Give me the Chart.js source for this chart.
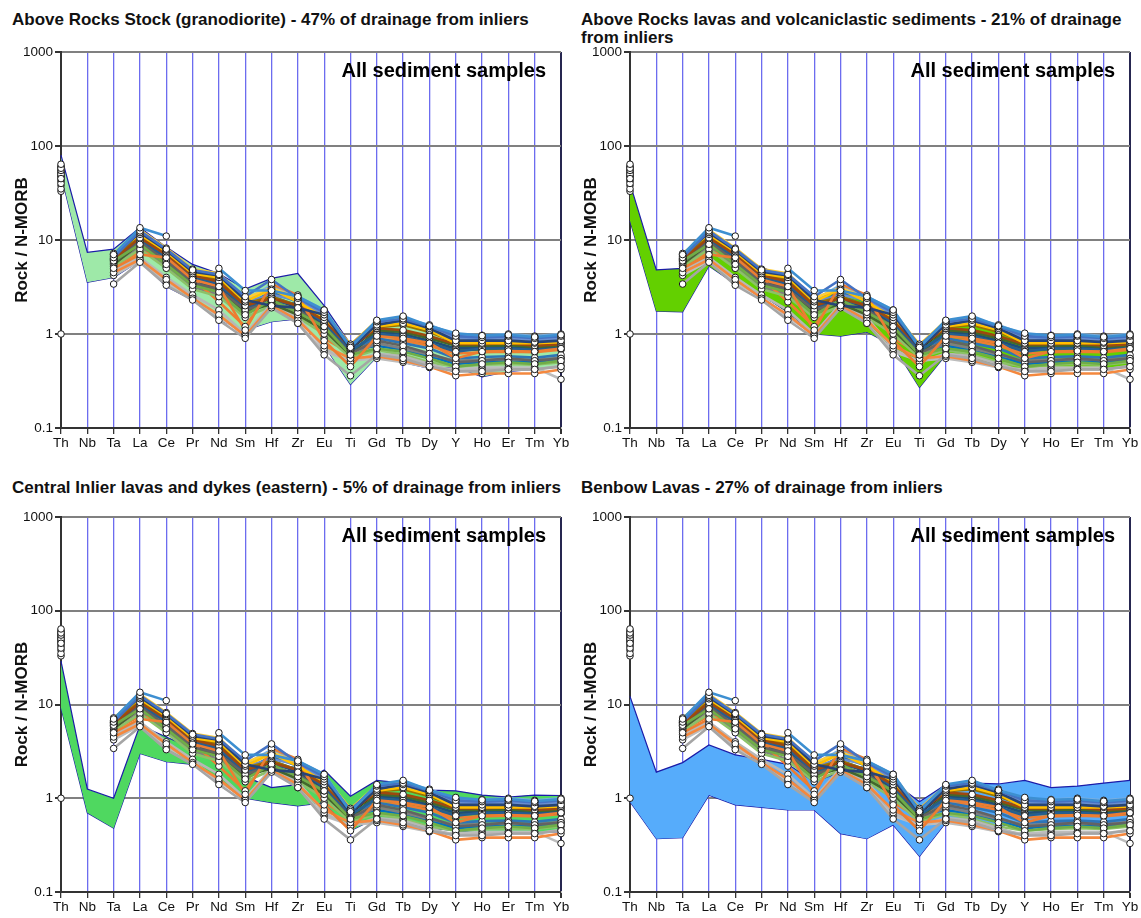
<!DOCTYPE html>
<html>
<head>
<meta charset="utf-8">
<script src="https://cdn.jsdelivr.net/npm/chart.js@4.4.1/dist/chart.umd.min.js"></script>
<style>
  body { margin: 0; background: #fff; width: 1141px; height: 918px; position: relative; overflow: hidden;
         font-family: Arial, "Liberation Sans", sans-serif; }
  .ttl { position: absolute; font-weight: bold; font-size: 17px; line-height: 18px; color: #111; white-space: nowrap; }
  canvas { position: absolute; }
</style>
</head>
<body>
<div class="ttl" style="left:12px;top:11px">Above Rocks Stock (granodiorite) - 47% of drainage from inliers</div>
<div class="ttl" style="left:581px;top:11px">Above Rocks lavas and volcaniclastic sediments - 21% of drainage<br>from inliers</div>
<div class="ttl" style="left:12px;top:479px">Central Inlier lavas and dykes (eastern) - 5% of drainage from inliers</div>
<div class="ttl" style="left:581px;top:479px">Benbow Lavas - 27% of drainage from inliers</div>

<canvas id="c1" width="580" height="415" style="left:0;top:40px"></canvas>
<canvas id="c2" width="572" height="415" style="left:569px;top:40px"></canvas>
<canvas id="c3" width="580" height="413" style="left:0;top:505px"></canvas>
<canvas id="c4" width="572" height="413" style="left:569px;top:505px"></canvas>

<script>
// Element order along the spider diagram (N-MORB normalised)
const elements = ['Th','Nb','Ta','La','Ce','Pr','Nd','Sm','Hf','Zr','Eu','Ti','Gd','Tb','Dy','Y','Ho','Er','Tm','Yb'];
const yTickValues = [0.1, 1, 10, 100, 1000];
const yTickLabels = ['0.1', '1', '10', '100', '1000'];
const yAxisTitle = 'Rock / N-MORB';
const noteText = 'All sediment samples';

// Stream sediment samples (Nb not analysed)
//              Th  Nb    Ta   La    Ce    Pr   Nd   Sm   Hf   Zr   Eu   Ti    Gd    Tb    Dy    Y     Ho    Er    Tm    Yb
const smp01 = [64, null, 7.0, 13.5, 11.0, null, 5.0, 2.9, 2.9, 2.5, 1.8, 0.72, 1.40, 1.55, 1.22, 1.02, 0.96, 0.98, 0.93, 0.98];
const smp02 = [58, null, 6.5, 12.5, 8.0, 4.8, 4.3, 2.5, 3.8, 2.4, 1.7, 0.75, 1.35, 1.45, 1.20, 0.95, 0.92, 0.95, 0.90, 0.95];
const smp03 = [55, null, 6.8, 12.0, 7.8, 4.6, 4.2, 2.3, 2.0, 1.9, 1.6, 0.70, 1.25, 1.40, 1.15, 0.85, 0.85, 0.85, 0.82, 0.85];
const smp04 = [60, null, 7.2, 11.5, 7.5, 4.4, 4.0, 2.2, 3.0, 2.2, 1.5, 0.78, 1.20, 1.30, 1.10, 0.80, 0.80, 0.80, 0.80, 0.82];
const smp05 = [45, null, 5.0, 7.0, 6.5, 3.8, 3.2, 1.1, 3.4, 2.6, 0.85, 0.45, 0.95, 0.90, 0.80, 0.55, 0.65, 0.66, 0.65, 0.70];
const smp06 = [40, null, 3.4, 5.8, 3.3, 2.3, 1.4, 0.9, 1.9, 1.3, 0.60, 0.36, 0.60, 0.55, 0.45, 0.40, 0.40, 0.42, 0.42, 0.45];
const smp07 = [50, null, 6.0, 9.0, 5.5, 3.3, 2.8, 1.6, 2.3, 1.7, 1.2, 0.60, 0.70, 0.65, 0.55, 0.45, 0.48, 0.50, 0.48, 0.52];
const smp08 = [52, null, 6.2, 10.5, 7.0, 4.2, 3.6, 2.0, 2.4, 2.0, 1.4, 0.72, 1.15, 1.10, 0.95, 0.78, 0.78, 0.80, 0.75, 0.78];
const smp09 = [48, null, 5.8, 9.5, 6.0, 3.5, 3.0, 1.8, 2.2, 1.8, 1.2, 0.62, 0.85, 0.75, 0.62, 0.50, 0.52, 0.55, 0.52, 0.55];
const smp10 = [56, null, 6.6, 11.0, 7.2, 4.3, 3.8, 2.1, 2.5, 2.0, 1.5, 0.74, 1.18, 1.25, 1.05, 0.82, 0.80, 0.82, 0.80, 0.80];
const smp11 = [53, null, 6.3, 10.0, 6.5, 4.0, 3.4, 1.9, 2.2, 2.1, 1.3, 0.66, 1.00, 0.95, 0.80, 0.65, 0.70, 0.70, 0.68, 0.70];
const smp12 = [47, null, 5.5, 9.2, 5.8, 3.4, 2.9, 1.7, 2.1, 1.6, 1.1, 0.60, 1.10, 1.05, 0.90, 0.75, 0.75, 0.76, 0.73, 0.75];
const smp13 = [57, null, 6.4, 11.5, 7.5, 4.5, 3.9, 2.2, 2.6, 2.3, 1.6, 0.70, 1.30, 1.35, 1.12, 0.90, 0.88, 0.90, 0.86, 0.90];
const smp14 = [35, null, 4.5, 6.2, 3.8, 2.4, 1.6, 0.95, 2.0, 1.4, 0.75, 0.55, 0.58, 0.52, 0.45, 0.36, 0.38, 0.38, 0.38, 0.42];
const smp15 = [38, null, 4.8, 6.5, 4.0, 2.6, 1.8, 1.0, 2.1, 1.5, 0.70, 0.50, 0.62, 0.58, 0.48, 0.40, 0.42, 0.42, 0.42, 0.46];
const smp16 = [61, null, 7.0, 12.8, 8.2, 4.9, 4.4, 2.4, 3.1, 2.4, 1.7, 0.77, 1.38, 1.50, 1.20, 0.88, 0.85, 0.88, 0.85, 0.88];
const smp17 = [59, null, 6.7, 12.2, 7.9, 4.7, 4.1, 2.3, 3.3, 2.5, 1.8, 0.73, 1.32, 1.48, 1.25, 0.98, 0.97, 1.00, 0.95, 1.00];
const smp18 = [44, null, 5.2, 8.0, 5.0, 3.0, 2.5, 1.5, 2.0, 1.5, 1.0, 0.56, 0.68, 0.60, 0.50, 0.45, 0.47, 0.48, 0.47, 0.50];
const smp19 = [54, null, 6.0, 10.8, 6.8, 4.1, 3.5, 2.0, 2.8, 2.2, 1.4, 0.68, 0.90, 0.80, 0.70, 0.55, 0.57, 0.58, 0.56, 0.60];
const smp20 = [42, null, 5.3, 7.5, 6.8, 3.9, 2.2, 1.2, 3.0, 2.4, 0.90, 0.62, 0.88, 0.85, 0.75, 0.62, 0.64, 0.65, 0.64, 0.68];
const smp21 = [46, null, 5.6, 8.5, 5.2, 3.2, 2.6, 1.6, 2.3, 1.6, 1.1, 0.58, 0.80, 0.70, 0.60, 0.52, 0.53, 0.54, 0.53, 0.56];
const smp22 = [51, null, 6.1, 9.8, 6.2, 3.7, 3.1, 1.9, 2.4, 1.9, 1.3, 0.64, 1.05, 1.00, 0.85, 0.70, 0.72, 0.72, 0.70, 0.72];
const smp23 = [49, null, 5.9, 9.0, 5.6, 3.4, 2.8, 1.8, 2.2, 1.7, 1.2, 0.62, 0.95, 0.92, 0.78, 0.68, 0.68, 0.68, 0.66, 0.70];
const smp24 = [55, null, 6.4, 10.2, 6.4, 3.9, 3.3, 1.7, 2.5, 2.0, 1.3, 0.67, 0.75, 0.68, 0.58, 0.48, 0.50, 0.52, 0.50, 0.55];
const smp25 = [1.0, null, 4.2, 6.0, 3.5, 2.5, 1.5, 1.0, 2.0, 1.3, 0.65, 0.52, 0.55, 0.50, 0.44, 0.42, 0.44, 0.44, 0.44, 0.33];
const smp26 = [33, null, 6.2, 10.5, 7.6, 4.5, 3.7, 2.0, 2.0, 1.8, 1.3, 0.70, 1.15, 1.50, 1.20, 0.95, 0.95, 0.95, 0.92, 0.95];

const sampleSeries = [smp01, smp02, smp03, smp04, smp05, smp06, smp07, smp08, smp09, smp10, smp11, smp12, smp13,
                      smp14, smp15, smp16, smp17, smp18, smp19, smp20, smp21, smp22, smp23, smp24, smp25, smp26];
const sampleColors = ['#3d8fd1', '#4472C4', '#264478', '#FFC000', '#ED7D31', '#A5A5A5', '#70AD47', '#9E480E', '#636363',
                      '#997300', '#255E91', '#43682B', '#698ED0', '#F4883E', '#B7B7B7', '#FFCD33', '#7CAFDD', '#8CC168',
                      '#2E75B6', '#ED7D31', '#7F7F7F', '#1F4E79', '#548235', '#0070C0', '#BDBDBD', '#262626'];

// Rock-unit envelopes (upper / lower limits)
const stockUpper   = [80, 7.4, 8.0, 13.6, 8.4, 5.5, 4.4, 3.0, 3.9, 4.4, 2.0, 0.78, 1.40, 1.45, 1.25, 1.0, 0.95, 0.95, 0.90, 0.95];
const stockLower   = [50, 3.55, 4.0, 6.0, 3.2, 2.3, 1.4, 1.1, 1.35, 1.45, 0.75, 0.29, 0.57, 0.50, 0.43, 0.45, 0.35, 0.40, 0.42, 0.45];
const lavasUpper   = [40, 4.8, 5.0, 9.0, 6.5, 5.2, 3.8, 2.4, 2.8, 2.5, 1.7, 0.70, 1.25, 1.25, 1.10, 0.85, 0.80, 0.80, 0.78, 0.80];
const lavasLower   = [16, 1.75, 1.72, 5.3, 3.4, 2.6, 1.7, 1.0, 0.95, 1.05, 0.75, 0.27, 0.60, 0.52, 0.48, 0.42, 0.42, 0.42, 0.42, 0.45];
const centralUpper = [29, 1.25, 1.0, 6.0, 4.5, 3.4, 2.6, 1.7, 1.3, 1.4, 2.0, 1.05, 1.55, 1.45, 1.22, 1.20, 1.08, 1.03, 1.08, 1.07];
const centralLower = [9.2, 0.70, 0.48, 3.0, 2.45, 2.3, 1.6, 1.0, 0.90, 0.83, 0.90, 0.45, 0.62, 0.55, 0.48, 0.45, 0.43, 0.43, 0.43, 0.44];
const benbowUpper  = [12.2, 1.9, 2.4, 3.7, 2.9, 2.6, 2.3, 1.5, 1.9, 1.7, 1.5, 0.92, 1.40, 1.45, 1.42, 1.55, 1.30, 1.35, 1.45, 1.55];
const benbowLower  = [0.92, 0.37, 0.38, 1.08, 0.85, 0.80, 0.75, 0.75, 0.42, 0.37, 0.52, 0.24, 0.55, 0.52, 0.50, 0.55, 0.55, 0.55, 0.55, 0.55];

const FONT = 'Arial, "Liberation Sans", sans-serif';
Chart.defaults.font.family = FONT;
Chart.defaults.color = '#111';

const noteLabel = {
  id: 'noteLabel',
  afterDraw(chart) {
    const { ctx, chartArea: a } = chart;
    ctx.save();
    ctx.font = 'bold 20px ' + FONT;
    ctx.fillStyle = '#000';
    ctx.textAlign = 'right';
    ctx.textBaseline = 'middle';
    ctx.fillText(noteText, a.right - 15, a.top + 19);
    ctx.restore();
  }
};

function buildPanel(id, upper, lower, fillColor, padRight, padTop, xAxisHeight) {
  const datasets = [];
  // white sample markers, drawn above every line
  sampleSeries.forEach((vals) => {
    datasets.push({
      data: vals, showLine: false, pointRadius: 3.3, pointBorderWidth: 1,
      pointBackgroundColor: '#fff', pointBorderColor: '#1a1a1a', order: 0, clip: false
    });
  });
  // sample profile lines
  sampleSeries.forEach((vals, i) => {
    datasets.push({
      data: vals, borderColor: sampleColors[i], borderWidth: 2.6, pointRadius: 0,
      spanGaps: false, tension: 0, order: 1, clip: false
    });
  });
  // envelope of the rock unit, behind everything
  const envIdx = datasets.length;
  datasets.push({
    data: upper, borderColor: '#1b1ba8', borderWidth: 1.2, pointRadius: 0,
    fill: envIdx + 1, backgroundColor: fillColor, order: 10, clip: false
  });
  datasets.push({
    data: lower, borderColor: '#1b1ba8', borderWidth: 1.2, pointRadius: 0,
    fill: false, order: 10, clip: false
  });

  new Chart(document.getElementById(id), {
    type: 'line',
    data: { labels: elements, datasets },
    options: {
      responsive: false, animation: false, devicePixelRatio: 1,
      layout: { padding: { top: padTop, right: padRight, left: 0, bottom: 0 } },
      plugins: { legend: { display: false }, tooltip: { enabled: false }, filler: { propagate: false } },
      scales: {
        x: {
          type: 'category', offset: false,
          grid: {
            color: (c) => (c.index === elements.length - 1 ? '#262650' : (c.index === 0 ? '#333' : '#6c6cef')),
            lineWidth: (c) => (c.index === elements.length - 1 ? 2 : 1.3),
            tickColor: '#333', tickLength: 6, drawTicks: true
          },
          border: { display: true, color: '#333', width: 2 },
          ticks: { autoSkip: false, maxRotation: 0, minRotation: 0, padding: 1, color: '#111', font: { size: 13.5 } },
          afterFit: (s) => { s.height = xAxisHeight; }
        },
        y: {
          type: 'logarithmic', min: 0.1, max: 1000,
          afterBuildTicks: (s) => { s.ticks = yTickValues.map((v) => ({ value: v })); },
          ticks: { callback: (v, i) => yTickLabels[i], padding: 2, color: '#111', font: { size: 13.5 } },
          grid: { color: '#808080', lineWidth: 2, tickColor: '#333', tickLength: 6 },
          border: { display: true, color: '#333', width: 2 },
          title: { display: true, text: yAxisTitle, color: '#111', font: { size: 17, weight: 'bold' },
                   padding: { top: 12, bottom: 0 } },
          afterFit: (s) => { s.width = 61; }
        }
      }
    },
    plugins: [noteLabel]
  });
}

buildPanel('c1', stockUpper, stockLower, '#9ee9a8', 19, 12, 27);
buildPanel('c2', lavasUpper, lavasLower, '#63d000', 11, 12, 27);
buildPanel('c3', centralUpper, centralLower, '#4fd860', 19, 12, 26);
buildPanel('c4', benbowUpper, benbowLower, '#56acfb', 11, 12, 26);
</script>
</body>
</html>
